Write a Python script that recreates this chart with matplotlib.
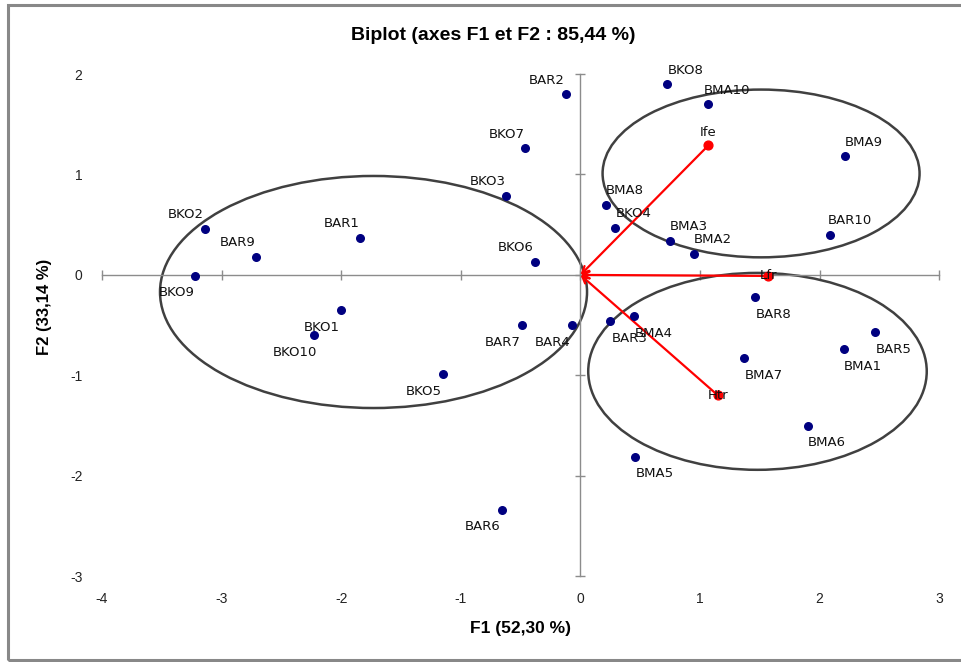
import matplotlib
matplotlib.use("Agg")
import matplotlib.pyplot as plt
from matplotlib.patches import Ellipse, Rectangle

plt.rcParams['font.family'] = ['Liberation Sans', 'DejaVu Sans']
plt.rcParams['axes.unicode_minus'] = False

# observations (F1, F2)
obs_names = ['BKO8', 'BMA10', 'BAR2', 'BKO7', 'BKO3', 'BKO6', 'BMA8', 'BKO4',
             'BMA3', 'BMA2', 'BMA9', 'BAR10', 'BKO2', 'BAR9', 'BKO9', 'BAR1',
             'BKO1', 'BKO10', 'BKO5', 'BAR7', 'BAR4', 'BAR3', 'BMA4', 'BMA5',
             'BAR6', 'BAR8', 'BAR5', 'BMA1', 'BMA7', 'BMA6']
obs_f1 = [0.72, 1.07, -0.12, -0.46, -0.62, -0.38, 0.21, 0.29,
          0.75, 0.95, 2.21, 2.09, -3.14, -2.71, -3.22, -1.84,
          -2.00, -2.23, -1.15, -0.49, -0.07, 0.25, 0.45, 0.46,
          -0.66, 1.46, 2.46, 2.20, 1.37, 1.90]
obs_f2 = [1.90, 1.70, 1.80, 1.26, 0.79, 0.13, 0.70, 0.47,
          0.34, 0.21, 1.18, 0.40, 0.46, 0.18, -0.01, 0.37,
          -0.35, -0.60, -0.99, -0.50, -0.50, -0.46, -0.41, -1.81,
          -2.34, -0.22, -0.57, -0.74, -0.83, -1.50]

# variables
var_names = ['Ife', 'Lfr', 'Htr']
var_f1 = [1.07, 1.57, 1.15]
var_f2 = [1.29, -0.01, -1.20]

# groups (ellipses): centre F1, centre F2, width, height
grp_cx = [-1.73, 1.51, 1.48]
grp_cy = [-0.17, 1.01, -0.96]
grp_w = [3.57, 2.65, 2.83]
grp_h = [2.31, 1.67, 1.96]

xticks = [-4, -3, -2, -1, 0, 1, 2, 3]
yticks = [-3, -2, -1, 0, 1, 2]

fig = plt.figure(figsize=(9.62, 6.62), dpi=100)
ax = fig.add_axes([102 / 962, 85.7 / 662, 837.3 / 962, 502.3 / 662])
ax.set_xlim(-4, 3)
ax.set_ylim(-3, 2)

# axes crossing at zero
for s in ['top', 'right']:
    ax.spines[s].set_visible(False)
ax.spines['left'].set_position(('data', 0))
ax.spines['bottom'].set_position(('data', 0))
for s in ['left', 'bottom']:
    ax.spines[s].set_color('#8c8c8c')
    ax.spines[s].set_linewidth(1.0)
ax.set_xticks(xticks)
ax.set_yticks(yticks)
ax.tick_params(direction='inout', length=7, width=1.0, color='#8c8c8c',
               labelbottom=False, labelleft=False)

# tick labels at the outer edges
secx = ax.secondary_xaxis('bottom')
secx.set_xticks(xticks)
secx.spines['bottom'].set_visible(False)
secx.tick_params(length=0, pad=11, labelsize=10, labelcolor='#222222')
secy = ax.secondary_yaxis('left')
secy.set_yticks(yticks)
secy.spines['left'].set_visible(False)
secy.tick_params(length=0, pad=14, labelsize=10, labelcolor='#222222')

for cx, cy, w, h in zip(grp_cx, grp_cy, grp_w, grp_h):
    ax.add_patch(Ellipse((cx, cy), w, h, fill=False, edgecolor='#404040',
                         linewidth=1.8, zorder=2))

ax.scatter(obs_f1, obs_f2, s=30, color='#000080', zorder=4)
for name, x, y in zip(obs_names, obs_f1, obs_f2):
    dx = 19 if x > 0 else -19
    dy = 14 if y > 0 else -17
    ax.annotate(name, (x, y), xytext=(dx, dy), textcoords='offset pixels',
                ha='center', va='center', fontsize=9.5,
                family=['DejaVu Sans'], color='#111111', zorder=5)

for name, x, y in zip(var_names, var_f1, var_f2):
    ax.annotate('', xy=(0, 0), xytext=(x, y),
                arrowprops=dict(arrowstyle='->', color='red', lw=1.6,
                                shrinkA=0, shrinkB=0, mutation_scale=12),
                zorder=3)
ax.scatter(var_f1, var_f2, s=40, color='red', zorder=4)
var_dy = [13, 0, 0]
for name, x, y, dy in zip(var_names, var_f1, var_f2, var_dy):
    ax.annotate(name, (x, y), xytext=(0, dy), textcoords='offset pixels',
                ha='center', va='center', fontsize=9.5,
                family=['DejaVu Sans'], color='#111111', zorder=5)

fig.text(493 / 962, 1 - 35 / 662, 'Biplot (axes F1 et F2 : 85,44 %)',
         ha='center', va='center', fontsize=14, fontweight='bold')
fig.text(521 / 962, 1 - 628 / 662, 'F1 (52,30 %)',
         ha='center', va='center', fontsize=12.5, fontweight='bold')
fig.text(45 / 962, 1 - 307 / 662, 'F2 (33,14 %)', rotation=90,
         ha='center', va='center', fontsize=12, fontweight='bold')

fig.patches.append(Rectangle((8 / 962, 2 / 662), 1.0, 655 / 662,
                             transform=fig.transFigure, fill=False,
                             edgecolor='#888888', linewidth=2.2))

fig.savefig('out.png', dpi=100)
